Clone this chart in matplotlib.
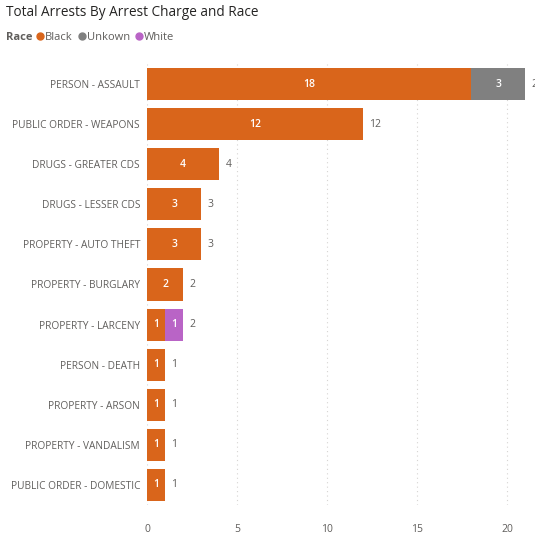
import numpy as np
import matplotlib
matplotlib.use('Agg')
import matplotlib.pyplot as plt
from matplotlib.lines import Line2D

categories = ['PERSON - ASSAULT', 'PUBLIC ORDER - WEAPONS', 'DRUGS - GREATER CDS',
              'DRUGS - LESSER CDS', 'PROPERTY - AUTO THEFT', 'PROPERTY - BURGLARY',
              'PROPERTY - LARCENY', 'PERSON - DEATH', 'PROPERTY - ARSON',
              'PROPERTY - VANDALISM', 'PUBLIC ORDER - DOMESTIC']
black = [18, 12, 4, 3, 3, 2, 1, 1, 1, 1, 1]
unknown = [3, 0, 0, 0, 0, 0, 0, 0, 0, 0, 0]
white = [0, 0, 0, 0, 0, 0, 1, 0, 0, 0, 0]
series_names = ['Black', 'Unkown', 'White']
xticks = [0, 5, 10, 15, 20]

colors = ['#D9651B', '#808080', '#B964C6']
label_grey = '#605E5C'

plt.rcParams['font.family'] = ['Open Sans', 'DejaVu Sans']

fig = plt.figure(figsize=(5.35, 5.4), dpi=100)
ax = fig.add_axes([147 / 535, 1 - 505 / 540, 1 - 147 / 535, 441 / 540])

y = np.arange(len(categories))
left = np.zeros(len(categories))
for vals, col in zip([black, unknown, white], colors):
    vals = np.array(vals, dtype=float)
    ax.barh(y, vals, left=left, height=0.8, color=col, zorder=2)
    for yi, (l, v) in enumerate(zip(left, vals)):
        if v > 0:
            ax.text(l + v / 2, yi, str(int(v)), ha='center', va='center',
                    color='white', fontsize=7.5, fontweight='semibold', zorder=3)
    left += vals

# totals to the right of each bar (the 21 gets cut at the edge, as in the source)
for yi, tot in enumerate(left):
    ax.text(tot + 0.35, yi, str(int(tot)), ha='left', va='center',
            color=label_grey, fontsize=7.5, clip_on=False)

ax.set_xlim(0, 21.55)
ax.set_ylim(len(categories) - 0.5, -0.5)
ax.set_yticks(y)
ax.set_yticklabels(categories, fontsize=7.3, color=label_grey)
ax.set_xticks(xticks)
ax.set_xticklabels([str(t) for t in xticks], fontsize=7.5, color=label_grey)
ax.tick_params(axis='both', length=0)
ax.tick_params(axis='y', pad=5)
ax.tick_params(axis='x', pad=14)
ax.xaxis.grid(True, linestyle=(0, (1, 3)), color='#D6D4D2', linewidth=0.8, zorder=0)
for sp in ax.spines.values():
    sp.set_visible(False)

fig.text(6 / 535, 1 - 13 / 540, 'Total Arrests By Arrest Charge and Race',
         fontsize=9.8, color='#252423', va='center', ha='left')
fig.text(6 / 535, 1 - 37 / 540, 'Race', fontsize=8, color=label_grey,
         fontweight='bold', va='center', ha='left')
handles = [Line2D([], [], marker='o', linestyle='', color=c, markersize=5) for c in colors]
fig.legend(handles, series_names, loc='center left', bbox_to_anchor=(37 / 535, 1 - 37 / 540),
           ncol=3, frameon=False, handlelength=0.6, handletextpad=0.15,
           columnspacing=0.5, borderaxespad=0, borderpad=0,
           prop={'size': 8}, labelcolor=label_grey)

fig.savefig('out.png', dpi=100)
